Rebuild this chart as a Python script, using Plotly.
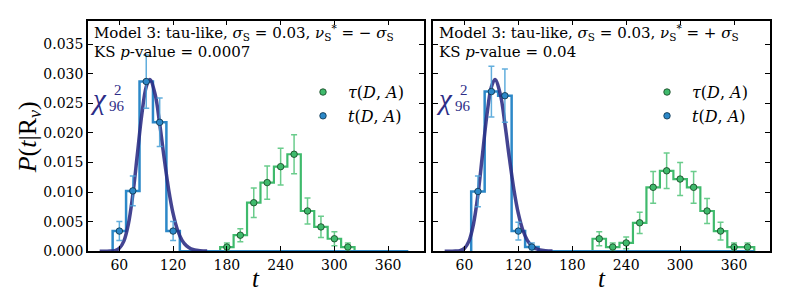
import plotly.graph_objects as go

# ---------------- data ----------------
bin_width = 15

# Left panel (nu* = -sigma)
tauL_centers = [180, 195, 210, 225, 240, 255, 270, 285, 300, 315]
tauL_vals = [0.0007, 0.0027, 0.0082, 0.0116, 0.0143, 0.0164, 0.0068, 0.0041, 0.0021, 0.0007]
tauL_err = [0.0007, 0.0011, 0.0025, 0.0028, 0.0031, 0.0033, 0.0022, 0.0018, 0.0012, 0.0007]

tL_centers = [60, 75, 90, 105, 120, 135, 150, 165, 180, 195, 210, 225, 240, 255,
              270, 285, 300, 315, 330, 345, 360, 375]
tL_vals = [0.0034, 0.0102, 0.0287, 0.0218, 0.0034, 0, 0, 0, 0, 0, 0, 0, 0, 0,
           0, 0, 0, 0, 0, 0, 0, 0]
tL_err = [0.0016, 0.0025, 0.0045, 0.0041, 0.0016, 0, 0, 0, 0, 0, 0, 0, 0, 0,
          0, 0, 0, 0, 0, 0, 0, 0]

# Right panel (nu* = +sigma)
tauR_centers = [210, 225, 240, 255, 270, 285, 300, 315, 330, 345, 360, 375]
tauR_vals = [0.0021, 0.0007, 0.0014, 0.0048, 0.0108, 0.0136, 0.0122, 0.0108, 0.0068, 0.0034, 0.0007, 0.0007]
tauR_err = [0.0012, 0.0007, 0.0010, 0.0018, 0.0027, 0.0030, 0.0028, 0.0027, 0.0021, 0.0015, 0.0007, 0.0007]

tR_centers = [75, 90, 105, 120, 135, 150, 165, 180, 195, 210, 225, 240, 255,
              270, 285, 300, 315, 330, 345, 360, 375]
tR_vals = [0.0101, 0.0270, 0.0263, 0.0034, 0.0007, 0, 0, 0, 0, 0, 0, 0, 0,
           0, 0, 0, 0, 0, 0, 0, 0]
tR_err = [0.0026, 0.0043, 0.0045, 0.0015, 0.0007, 0, 0, 0, 0, 0, 0, 0, 0,
          0, 0, 0, 0, 0, 0, 0, 0]

# chi^2_96 curve
chi_x = [38, 45, 50, 55, 60, 65, 70, 75, 80, 85, 90, 94, 100, 105, 110, 115, 120,
         125, 130, 135, 140, 150, 158]
chi_y = [0.0, 0.000001, 0.000014, 0.000098, 0.00048, 0.0017, 0.00454, 0.00954,
         0.01626, 0.02306, 0.0278, 0.02904, 0.02649, 0.02154, 0.01574, 0.01044,
         0.00634, 0.00354, 0.00184, 0.00089, 0.0004, 0.00007, 0.00001]

x_ticks = [60, 120, 180, 240, 300, 360]
y_ticks = [0.0, 0.005, 0.010, 0.015, 0.020, 0.025, 0.030, 0.035]

titles = [
    ("Model 3: tau-like, <i>σ</i><sub>S</sub> = 0.03, <i>ν</i><sub>S</sub><sup>*</sup> = − <i>σ</i><sub>S</sub>",
     "KS <i>p</i>-value = 0.0007"),
    ("Model 3: tau-like, <i>σ</i><sub>S</sub> = 0.03, <i>ν</i><sub>S</sub><sup>*</sup> = + <i>σ</i><sub>S</sub>",
     "KS <i>p</i>-value = 0.04"),
]

# ---------------- styles ----------------
BLUE = "#2c88c8"
BLUE_ERR = "rgba(70,160,215,0.85)"
GREEN = "#3fba6c"
GREEN_ERR = "rgba(80,195,120,0.85)"
NAVY = "rgba(42,42,130,0.88)"
CHI_TXT = "#2d2d87"
SERIF = "DejaVu Serif"
MATH = "Liberation Serif"


def step_path(centers, vals, w):
    xs, ys = [centers[0] - w / 2], [0]
    for c, v in zip(centers, vals):
        xs += [c - w / 2, c + w / 2]
        ys += [v, v]
    xs.append(centers[-1] + w / 2)
    ys.append(0)
    return xs, ys


fig = go.Figure()

panels = [
    dict(xa="x", ya="y", tau=(tauL_centers, tauL_vals, tauL_err),
         t=(tL_centers, tL_vals, tL_err), legend="legend"),
    dict(xa="x2", ya="y2", tau=(tauR_centers, tauR_vals, tauR_err),
         t=(tR_centers, tR_vals, tR_err), legend="legend2"),
]

for p in panels:
    tc, tv, te = p["tau"]
    sc, sv, se = p["t"]
    gx, gy = step_path(tc, tv, bin_width)
    fig.add_trace(go.Scatter(x=gx, y=gy, mode="lines", line=dict(color=GREEN, width=2.2),
                             xaxis=p["xa"], yaxis=p["ya"], showlegend=False, hoverinfo="skip"))
    bx, by = step_path(sc, sv, bin_width)
    fig.add_trace(go.Scatter(x=bx, y=by, mode="lines", line=dict(color=BLUE, width=2.5),
                             xaxis=p["xa"], yaxis=p["ya"], showlegend=False, hoverinfo="skip"))
    fig.add_trace(go.Scatter(x=chi_x, y=chi_y, mode="lines", line=dict(color=NAVY, width=3.5, shape="spline"),
                             xaxis=p["xa"], yaxis=p["ya"], showlegend=False, hoverinfo="skip"))
    # tau points
    fig.add_trace(go.Scatter(
        x=tc, y=tv, mode="markers",
        marker=dict(color=GREEN, size=6.5, line=dict(color="#14401f", width=0.8)),
        error_y=dict(type="data", array=te, color=GREEN_ERR, thickness=1.5, width=3),
        xaxis=p["xa"], yaxis=p["ya"], name="<i>τ</i>(<i>D</i>, <i>A</i>)",
        legend=p["legend"]))
    # t points (non-zero bins only)
    nz = [i for i, v in enumerate(sv) if v > 0]
    fig.add_trace(go.Scatter(
        x=[sc[i] for i in nz], y=[sv[i] for i in nz], mode="markers",
        marker=dict(color=BLUE, size=6.5, line=dict(color="#0d2e45", width=0.8)),
        error_y=dict(type="data", array=[se[i] for i in nz], color=BLUE_ERR, thickness=1.5, width=3),
        xaxis=p["xa"], yaxis=p["ya"], name="<i>t</i>(<i>D</i>, <i>A</i>)",
        legend=p["legend"]))

ax_common = dict(showline=True, linecolor="black", linewidth=1.5, mirror="allticks",
                 ticks="inside", ticklen=5, tickwidth=1, tickcolor="black",
                 showgrid=False, zeroline=False,
                 tickfont=dict(family=SERIF, size=14, color="black"))

xdom1 = [80 / 789, 416 / 789]
xdom2 = [425 / 789, 762 / 789]
ydom = [1 - 250 / 293, 1 - 13 / 293]

legend_style = dict(xanchor="left", yanchor="top", bgcolor="rgba(0,0,0,0)",
                    font=dict(family=SERIF, size=16, color="black"), itemwidth=40,
                    tracegroupgap=0)

fig.update_layout(
    width=789, height=293,
    margin=dict(l=0, r=0, t=0, b=0),
    paper_bgcolor="white", plot_bgcolor="white",
    xaxis=dict(domain=xdom1, range=[25, 400], tickvals=x_ticks, anchor="y", **ax_common),
    xaxis2=dict(domain=xdom2, range=[25, 400], tickvals=x_ticks, anchor="y2", **ax_common),
    yaxis=dict(domain=ydom, range=[0, 0.039], tickvals=y_ticks, tickformat=".3f", anchor="x",
               **ax_common),
    yaxis2=dict(domain=ydom, range=[0, 0.039], tickvals=y_ticks, showticklabels=False, anchor="x2",
                **ax_common),
    legend=dict(x=290 / 789, y=1 - 69 / 293, **legend_style),
    legend2=dict(x=634 / 789, y=1 - 69 / 293, **legend_style),
)

# y-axis title
fig.add_annotation(text="<i>P</i>(<i>t</i>|R<sub><i>ν</i></sub>)", textangle=-90,
                   xref="paper", yref="paper", x=21 / 789, y=1 - 133 / 293,
                   xanchor="center", yanchor="middle", showarrow=False,
                   font=dict(family=MATH, size=26, color="black"))

for (l1, l2), x0, cx, dom in [(titles[0], 84, 80, xdom1), (titles[1], 429, 426, xdom2)]:
    # x-axis title
    fig.add_annotation(text="<i>t</i>", xref="paper", yref="paper", x=(dom[0] + dom[1]) / 2, y=0,
                       xanchor="center", yanchor="bottom", showarrow=False, borderpad=0,
                       font=dict(family=MATH, size=25, color="black"))
    fig.add_annotation(text=l1, xref="paper", yref="paper", x=x0 / 789, y=1 - 25 / 293,
                       xanchor="left", yanchor="middle", showarrow=False,
                       font=dict(family=SERIF, size=15, color="black"))
    fig.add_annotation(text=l2, xref="paper", yref="paper", x=x0 / 789, y=1 - 45 / 293,
                       xanchor="left", yanchor="middle", showarrow=False,
                       font=dict(family=SERIF, size=15, color="black"))
    # chi^2_96 label (symbol, superscript, subscript)
    fig.add_annotation(text="<i>χ</i>", xref="paper", yref="paper", x=(cx + 1) / 789, y=1 - 94 / 293,
                       xanchor="left", yanchor="middle", showarrow=False, borderpad=0,
                       font=dict(family=MATH, size=29, color=CHI_TXT))
    fig.add_annotation(text="2", xref="paper", yref="paper", x=(cx + 25) / 789, y=1 - 84 / 293,
                       xanchor="left", yanchor="middle", showarrow=False, borderpad=0,
                       font=dict(family=MATH, size=15, color=CHI_TXT))
    fig.add_annotation(text="96", xref="paper", yref="paper", x=(cx + 20) / 789, y=1 - 101 / 293,
                       xanchor="left", yanchor="middle", showarrow=False, borderpad=0,
                       font=dict(family=MATH, size=15, color=CHI_TXT))

fig.write_html("out.html")
